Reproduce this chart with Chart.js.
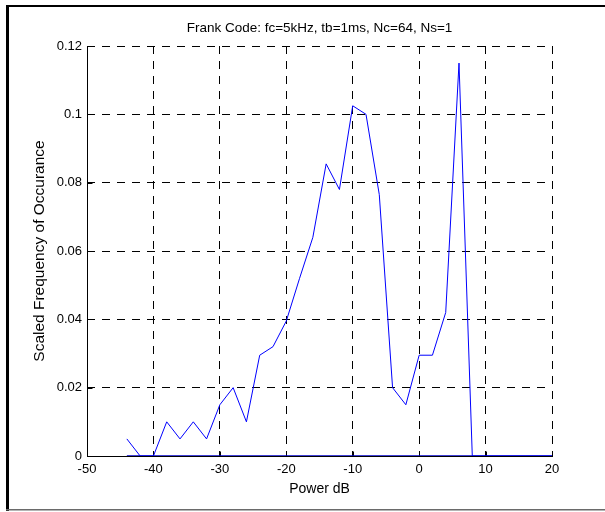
<!DOCTYPE html>
<html>
<head>
<meta charset="utf-8">
<title>Frank Code power histogram</title>
<script src="https://cdn.jsdelivr.net/npm/chart.js@4/dist/chart.umd.min.js"></script>
<style>
  html, body { margin: 0; padding: 0; background: #fff; }
  #wrap { width: 605px; height: 512px; position: relative; }
</style>
</head>
<body>
<div id="wrap"><canvas id="histChart" width="605" height="512"></canvas></div>
<script>
// values
const powerDb = [-44, -42, -40, -38, -36, -34, -32, -30, -28, -26, -24, -22, -20, -18, -16,
  -14, -12, -10, -8, -6, -4, -2, 0, 2, 4, 6, 8, 10, 12, 14, 16, 18, 20];
const freq = [0.005, 0, 0, 0.01, 0.005, 0.01, 0.005, 0.015, 0.02, 0.01, 0.0295, 0.032, 0.0395, 0.052, 0.064,
  0.0855, 0.078, 0.1025, 0.1, 0.0765, 0.02, 0.015, 0.0295, 0.0295, 0.042, 0.115, 0, 0, 0, 0, 0, 0, 0];
const baseX = [-44, 20];
const baseY = [0, 0];
const xTicks = [-50, -40, -30, -20, -10, 0, 10, 20];
const yTicks = [0, 0.02, 0.04, 0.06, 0.08, 0.1, 0.12];

const FONT = '"Liberation Sans", Arial, Helvetica, sans-serif';

// outer frame + white background
const framePlugin = {
  id: 'frame',
  beforeDraw(chart) {
    const ctx = chart.ctx;
    ctx.save();
    ctx.fillStyle = '#fff';
    ctx.fillRect(0, 0, chart.width, chart.height);
    ctx.fillStyle = '#000';
    ctx.fillRect(6, 5, 599, 2);
    ctx.fillRect(6, 5, 3, 506);
    ctx.fillStyle = '#6a6a6a';
    ctx.fillRect(6, 509, 599, 1.5);
    ctx.restore();
  }
};

// solid left/bottom axes with inward ticks, like matlab with box off
const axesPlugin = {
  id: 'matAxes',
  beforeDatasetsDraw(chart) {
    const { ctx, chartArea: a, scales } = chart;
    const L = Math.round(a.left) + 0.5, B = Math.round(a.bottom) + 0.5;
    ctx.save();
    ctx.strokeStyle = '#000';
    ctx.lineWidth = 1;
    ctx.beginPath();
    ctx.moveTo(L, Math.round(a.top));
    ctx.lineTo(L, B);
    ctx.lineTo(Math.round(a.right) + 1, B);
    xTicks.forEach(v => {
      const px = Math.round(scales.x.getPixelForValue(v)) + 0.5;
      ctx.moveTo(px, B);
      ctx.lineTo(px, B - 5);
    });
    yTicks.forEach(v => {
      const py = Math.round(scales.y.getPixelForValue(v)) + 0.5;
      ctx.moveTo(L, py);
      ctx.lineTo(L + 5, py);
    });
    ctx.stroke();
    ctx.restore();
  }
};

new Chart(document.getElementById('histChart'), {
  type: 'line',
  data: {
    datasets: [
      {
        data: powerDb.map((x, i) => ({ x: x, y: freq[i] })),
        borderColor: '#0000ff',
        borderWidth: 1,
        pointRadius: 0,
        tension: 0
      },
      {
        data: baseX.map((x, i) => ({ x: x, y: baseY[i] })),
        borderColor: '#0000c8',
        borderWidth: 1.5,
        pointRadius: 0
      }
    ]
  },
  options: {
    responsive: false,
    animation: false,
    events: [],
    layout: { padding: { left: 29, right: 53, top: 0, bottom: 10 } },
    plugins: {
      legend: { display: false },
      tooltip: { enabled: false },
      title: {
        display: true,
        fullSize: false,
        text: 'Frank Code: fc=5kHz, tb=1ms, Nc=64, Ns=1',
        color: '#000',
        font: { family: FONT, size: 13.5, weight: 'normal', lineHeight: 1.2 },
        padding: { top: 20, bottom: 9.8 }
      }
    },
    scales: {
      x: {
        type: 'linear',
        min: -50,
        max: 20,
        afterBuildTicks: s => { s.ticks = xTicks.map(v => ({ value: v })); },
        afterFit: s => { s.height = 46; },
        grid: { color: '#000', lineWidth: 1, drawTicks: false },
        border: { display: false, dash: [8, 7] },
        ticks: {
          color: '#000',
          padding: 6,
          maxRotation: 0,
          font: { family: FONT, size: 13 },
          callback: v => String(v)
        },
        title: {
          display: true,
          text: 'Power dB',
          color: '#000',
          font: { family: FONT, size: 14, lineHeight: 1.2 },
          padding: { top: 0, bottom: 4.5 }
        }
      },
      y: {
        min: 0,
        max: 0.12,
        afterBuildTicks: s => { s.ticks = yTicks.map(v => ({ value: v })); },
        afterFit: s => { s.width = 58; },
        grid: { color: '#000', lineWidth: 1, drawTicks: false },
        border: { display: false, dash: [8, 7] },
        ticks: {
          color: '#000',
          padding: 5,
          font: { family: FONT, size: 13 },
          callback: v => String(+v.toFixed(2))
        },
        title: {
          display: true,
          text: 'Scaled Frequency of Occurance',
          color: '#000',
          font: { family: FONT, size: 15.5, lineHeight: 1.2 },
          padding: { top: 1, bottom: 0 }
        }
      }
    }
  },
  plugins: [framePlugin, axesPlugin]
});
</script>
</body>
</html>
